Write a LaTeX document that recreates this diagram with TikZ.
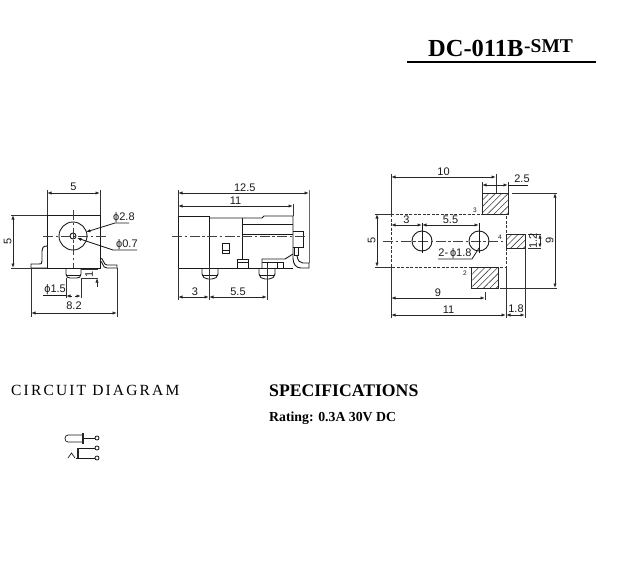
\documentclass[tikz,border=0pt]{standalone}
\usepackage{fontspec}
\setmainfont{Liberation Serif}
\newfontfamily\dimfont{Liberation Sans}
\newfontfamily\widefont[LetterSpace=14]{Liberation Serif}
\newcommand{\dia}{\char"03D5\relax}
\usetikzlibrary{arrows.meta,patterns.meta}
\tikzset{
part/.style={line width=0.9pt,draw=black!90},
thin part/.style={line width=0.7pt,draw=black!90},
extline/.style={line width=0.8pt,draw=black!80},
dimline/.style={line width=0.8pt,draw=black!85,{Latex[length=4.5pt,width=3.2pt]}-{Latex[length=4.5pt,width=3.2pt]}},
leaderline/.style={line width=0.8pt,draw=black!90},
centerline/.style={line width=0.8pt,draw=black!75,dash pattern=on 10pt off 2.5pt on 2.5pt off 2.5pt},
outline dashed/.style={line width=0.9pt,draw=black!80,dash pattern=on 3pt off 1.5pt},
hatchpad/.style={line width=0.8pt,draw=black!85,pattern={Lines[angle=45,distance=4.5pt,line width=0.6pt]},pattern color=black!75},
dimtext/.style={inner sep=0pt,font=\dimfont\fontsize{11}{12}\selectfont,text=black!90},
pintext/.style={inner sep=0pt,font=\dimfont\fontsize{6.5}{8}\selectfont,text=black!90},
head/.style={inner sep=0pt,anchor=west,font=\fontsize{16}{18}\selectfont}
}
\begin{document}
\begin{tikzpicture}[x=1pt,y=-1pt]
\useasboundingbox (0,0) rectangle (640,568);
% title
\node[head,font=\bfseries\fontsize{24.5}{26}\selectfont] (title) at (428,48) {DC-011B};
\node[head,font=\bfseries\fontsize{19.5}{22}\selectfont] (titleb) at (524,46) {-SMT};
\draw[line width=2pt] (407,62) -- (596,62);
% front view
\draw[part] (47,215) rectangle (100,268);
\draw[part] (73,236) circle (14);
\draw[part] (73,236) circle (3);
\draw[centerline] (43,236) -- (107,236);
\draw[centerline] (73,210) -- (73,268);
\draw[part] (47,246) .. controls (43,246) and (42,248) .. (42,251) -- (42,261) .. controls (42,264) and (41,264) .. (39,264) -- (31,264) -- (31,268) -- (47,268);
\draw[part] (100,258) .. controls (104,258) and (103,265) .. (107,265) -- (117,265) -- (117,268);
\draw[part] (100,261) .. controls (103,261) and (102,268) .. (107,268) -- (117,268);
\draw[part] (66,268) -- (66,274) .. controls (66,277) and (68,278) .. (70,278) -- (77,278) .. controls (79,278) and (81,277) .. (81,274) -- (81,268);
\draw[thin part] (66,275) -- (81,275);
\draw[extline] (47,190) -- (47,215) (100,190) -- (100,215);
\draw[extline] (11,215) -- (47,215) (11,268) -- (47,268);
\draw[dimline] (47,193) -- node[dimtext,above=1.5pt] (fwidth) {5} (100,193);
\draw[dimline] (13,215) -- node[dimtext,rotate=90,above=1pt] (fheight) {5} (13,268);
% pin dimensions
\draw[extline] (66,278) -- (66,298) (81,278) -- (81,298);
\draw[extline] (81,269) -- (98,269) (81,278) -- (98,278);
\draw[line width=0.8pt,draw=black!85,{Latex[length=4.5pt,width=3.2pt]}-] (66,296) -- (72,296);
\draw[line width=0.8pt,draw=black!85,-{Latex[length=4.5pt,width=3.2pt]}] (75,296) -- (81,296);
\draw[line width=0.8pt,draw=black!85,{Latex[length=4.5pt,width=3.2pt]}-] (97,278) -- (97,287);
\node[dimtext,rotate=90] (pinlen) at (89,274) {1};
\node[dimtext,anchor=east] (pindia) at (66,290) {\dia1.5};
\draw[leaderline] (43,295) -- (66,295);
\draw[extline] (31,268) -- (31,317) (117,268) -- (117,317);
\draw[dimline] (31,313) -- node[dimtext,above=3pt] (fspan) {8.2} (117,313);
% bore leaders
\node[dimtext,anchor=west] (borea) at (113,218) {\dia2.8};
\node[dimtext,anchor=west] (boreb) at (116,245) {\dia0.7};
\draw[leaderline,-{Latex[length=4.5pt,width=3.2pt]}] (129,223) -- (115,223) -- (86,232);
\draw[leaderline,-{Latex[length=4.5pt,width=3.2pt]}] (137,250) -- (113,250) -- (77,238);
% side view
\draw[part] (178,216) rectangle (209,268);
\draw[part] (209,218) -- (262,218) -- (264,216) -- (293,216) -- (293,258);
\draw[part] (209,268) -- (293,268);
\draw[part] (242,218) -- (242,259);
\draw[part] (242,224) -- (293,224) (242,234) -- (293,234);
\draw[part] (293,231) -- (303,231) -- (303,247) -- (293,247);
\draw[part] (294,247) -- (294,255) -- (298,255) -- (298,247);
\draw[part] (293,258) .. controls (293,264) and (296,268) .. (301,268) -- (309,268) -- (309,263) -- (303,263) .. controls (300,263) and (298,261) .. (297,256);
\draw[part] (222,243) rectangle (229,253);
\draw[thin part] (222,250) -- (229,250);
\draw[part] (237,268) -- (237,259) -- (248,259) -- (248,268);
\draw[thin part] (237,262) -- (248,262);
\draw[part] (262,268) -- (262,259) -- (285,259) -- (293,254);
\draw[thin part] (262,262) -- (283,262) -- (283,268);
\draw[thin part] (267,262) -- (267,268) (277,262) -- (277,268);
\draw[part] (202,268) -- (202,274) .. controls (202,277) and (205,279) .. (208,279) -- (212,279) .. controls (215,279) and (218,277) .. (218,274) -- (218,268);
\draw[part] (259,268) -- (259,274) .. controls (259,277) and (262,279) .. (265,279) -- (269,279) .. controls (272,279) and (275,277) .. (275,274) -- (275,268);
\draw[thin part] (202,275) -- (218,275) (259,275) -- (275,275);
\draw[centerline] (172,236) -- (305,236);
\draw[extline] (178,190) -- (178,216) (293,204) -- (293,216);
\draw[line width=1pt,draw=black!60] (309,190) -- (309,263);
\draw[dimline] (178,193) -- node[dimtext,above=1pt,pos=0.51] (sidelen) {12.5} (309,193);
\draw[dimline] (178,206) -- node[dimtext,above=1pt,pos=0.5] (sidebody) {11} (293,206);
\draw[extline] (178,268) -- (178,300) (209,265) -- (209,300) (267,265) -- (267,300);
\draw[dimline] (178,297) -- node[dimtext,above=1pt,pos=0.55] (sidefirst) {3} (209,297);
\draw[dimline] (209,297) -- node[dimtext,above=1pt] (sidepitch) {5.5} (267,297);
% footprint
\draw[outline dashed] (391,214) rectangle (506,267);
\draw[hatchpad] (482,193) rectangle (508,214);
\draw[hatchpad] (471,267) rectangle (498,288);
\draw[hatchpad] (506,234) rectangle (525,248);
\draw[part] (422,241) circle (10);
\draw[part] (479,241) circle (10);
\draw[centerline] (383,241) -- (503,241);
\draw[thin part] (422,223) -- (422,253) (479,223) -- (479,253);
\node[pintext] (padc) at (475,210) {3};
\node[pintext] (padb) at (465,273) {2};
\node[pintext] (padd) at (500,237) {4};
\draw[extline] (391,174) -- (391,214) (391,267) -- (391,318);
\draw[extline] (496,174) -- (496,193) (482,182) -- (482,193) (508,182) -- (508,193);
\draw[dimline] (391,177) -- node[dimtext,above=1pt] (padten) {10} (496,177);
\draw[dimline] (482,185) -- (508,185);
\draw[leaderline] (508,185) -- (528,185);
\node[dimtext] (padwidth) at (522,179) {2.5};
\draw[extline] (375,214) -- (391,214) (375,267) -- (391,267);
\draw[dimline] (377,214) -- node[dimtext,rotate=90,above=1pt] (padfive) {5} (377,267);
\draw[dimline] (391,225) -- node[dimtext,above=1pt] (holea) {3} (422,225);
\draw[dimline] (422,225) -- node[dimtext,above=1pt] (holeb) {5.5} (479,225);
\node[dimtext] (holedia) at (455,254) {2-\,\dia1.8};
\draw[leaderline] (438,259) -- (472,259) -- (479,248);
\draw[extline] (512,193) -- (557,193) (500,288) -- (557,288);
\draw[dimline] (555,193) -- node[dimtext,rotate=90,above=1pt] (padnine) {9} (555,288);
\draw[extline] (528,234) -- (541,234) (528,248) -- (541,248);
\draw[dimline] (540,234) -- (540,248);
\node[dimtext,rotate=90] (padthick) at (533,241) {1.2};
\draw[extline] (485,292) -- (485,300);
\draw[dimline] (391,298) -- node[dimtext,above=1pt] (padreach) {9} (485,298);
\draw[extline] (506,267) -- (506,318) (525,248) -- (525,318);
\draw[dimline] (391,315) -- node[dimtext,above=1pt] (padlong) {11} (506,315);
\draw[dimline] (506,315) -- (525,315);
\node[dimtext] (padtail) at (516,309) {1.8};
% circuit diagram
\node[head,font=\widefont\fontsize{15.5}{18}\selectfont] (circuit) at (11,390) {CIRCUIT DIAGRAM};
\node[head,font=\bfseries\fontsize{17.7}{20}\selectfont] (spec) at (269,391) {SPECIFICATIONS};
\node[head,font=\bfseries\fontsize{13.8}{16}\selectfont] (rating) at (269,418) {Rating: 0.3A 30V DC};
\coordinate (tipa) at (83,438);
\node[circle,draw,line width=0.7pt,inner sep=0pt,minimum size=4pt] (ta) at (97,438) {};
\node[circle,draw,line width=0.7pt,inner sep=0pt,minimum size=4pt] (tb) at (97,448) {};
\node[circle,draw,line width=0.7pt,inner sep=0pt,minimum size=4pt] (tc) at (97,458) {};
\draw[thin part] (83,435) -- (68,435) .. controls (64,435) and (64,442) .. (68,442) -- (83,442);
\draw[line width=1.5pt,black!85] (83,433) -- (83,444);
\draw[thin part] (tipa) -- (ta);
\draw[thin part] (tb) -- (78,448);
\draw[line width=1.5pt,black!85] (78,448) -- (78,459);
\draw[thin part] (tc) -- (76,458);
\draw[thin part] (68,458) -- (71.5,453) -- (75,458);
\end{tikzpicture}
\end{document}
